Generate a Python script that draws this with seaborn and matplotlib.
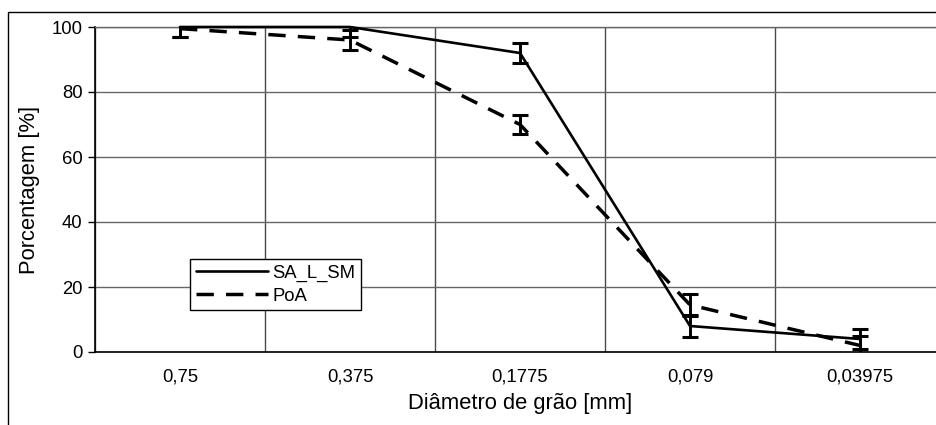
import numpy as np
import pandas as pd
import matplotlib
matplotlib.use("Agg")
import matplotlib.pyplot as plt
from matplotlib.patches import Rectangle
import seaborn as sns

# data
diametros = ["0,75", "0,375", "0,1775", "0,079", "0,03975"]
sa_l_sm = [100, 100, 92, 8, 4]
sa_l_sm_err = [3, 3, 3, 3.5, 3]
poa = [99.5, 96, 70, 14.5, 2]
poa_err = [2.5, 3, 3, 3.5, 3]

pos = np.arange(len(diametros))
df = pd.DataFrame({"x": np.concatenate([pos, pos]),
                   "y": sa_l_sm + poa,
                   "serie": ["SA_L_SM"] * 5 + ["PoA"] * 5})

sns.set_style("white")
plt.rcParams["font.family"] = ["Liberation Sans", "DejaVu Sans"]
plt.rcParams.update({"text.color": "black", "axes.labelcolor": "black",
                     "xtick.color": "black", "ytick.color": "black"})

fig = plt.figure(figsize=(9.36, 4.25), dpi=100)
ax = fig.add_axes([95 / 936, 1 - 352 / 425, 850 / 936, 325 / 425])

# outer chart-area frame
fig.add_artist(Rectangle((8 / 936, -0.2), 1.2, 1.2 - 12 / 425, transform=fig.transFigure,
                         fill=False, edgecolor="black", lw=1.0))

sns.lineplot(data=df[df.serie == "SA_L_SM"], x="x", y="y", color="black",
             lw=1.9, label="SA_L_SM", ax=ax, clip_on=False, zorder=4)
sns.lineplot(data=df[df.serie == "PoA"], x="x", y="y", color="black",
             lw=2.5, dashes=(5, 3.5), label="PoA", ax=ax, clip_on=False, zorder=4)

ax.errorbar(pos, sa_l_sm, yerr=sa_l_sm_err, fmt="none", ecolor="black",
            elinewidth=2.1, capsize=5.5, capthick=2.2, zorder=5)
ax.errorbar(pos, poa, yerr=poa_err, fmt="none", ecolor="black",
            elinewidth=2.1, capsize=5.5, capthick=2.2, zorder=5)

ax.set_xlim(-0.5, 4.5)
ax.set_ylim(0, 100)
ax.set_xticks(pos)
ax.set_xticklabels(diametros)
ax.set_xticks(np.arange(-0.5, 5, 1), minor=True)
ax.set_yticks(np.arange(0, 101, 20))

ax.tick_params(axis="x", which="major", direction="in", length=4, width=1,
               color="#555555", labelsize=13.3, pad=12)
ax.tick_params(axis="x", which="minor", direction="out", length=6, width=1,
               color="black")
ax.tick_params(axis="y", direction="out", length=5, width=1, color="black",
               labelsize=13.3, pad=4, left=True)

ax.grid(False)
ax.xaxis.grid(True, which="minor", color="#4a4a4a", lw=1)
ax.yaxis.grid(True, which="major", color="#666666", lw=1)

for s in ["left", "bottom"]:
    ax.spines[s].set_color("black")
    ax.spines[s].set_linewidth(1.2)
ax.spines["top"].set_color("#666666")
ax.spines["top"].set_linewidth(1)
ax.spines["right"].set_visible(False)

ax.set_xlabel("Diâmetro de grão [mm]", fontsize=15.8, labelpad=5)
ax.set_ylabel("Porcentagem [%]", fontsize=15.8, labelpad=8)

leg = ax.legend(loc="lower left", bbox_to_anchor=(0.112, 0.129), fontsize=13.3,
                handlelength=3.9, handletextpad=0.25, borderpad=0.3,
                labelspacing=0.3, fancybox=False, framealpha=1,
                edgecolor="black", borderaxespad=0)
leg.get_frame().set_linewidth(1)

fig.savefig("out.png", dpi=100)
